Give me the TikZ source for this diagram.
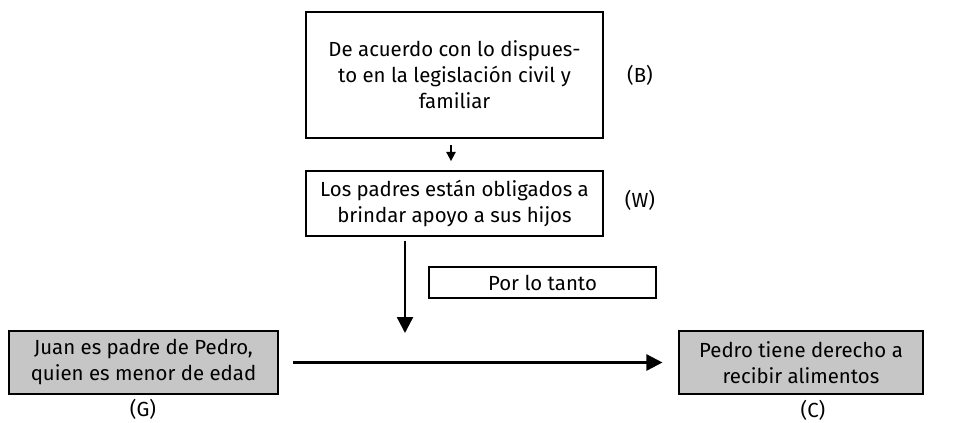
\documentclass[tikz,border=0pt]{standalone}
\usepackage{fontspec}
\setmainfont{Fira Sans}
\usetikzlibrary{positioning,arrows.meta}
\tikzset{
boxnode/.style 2 args = {rectangle, draw, line width=0.8pt, align=center, inner sep=0pt,
  minimum width=#1, minimum height=#2, font=\fontsize{15.3}{19.5}\selectfont},
greynode/.style 2 args = {boxnode={#1}{#2}, fill=gray!45},
tagnode/.style = {font=\fontsize{15.3}{19.5}\selectfont},
bigarrow/.style = {line width=1.8pt, -{Triangle[length=12pt,width=12pt]}},
smallarrow/.style = {line width=1.3pt, -{Triangle[length=7pt,width=7pt]}}
}
\begin{document}
\begin{tikzpicture}[x=0.75pt,y=-0.75pt]
    \useasboundingbox (0,0) rectangle (966,422);
    % premises
    \node [boxnode={222.75pt}{94.5pt}] (B) at (454.5,75)
        {De acuerdo con lo dispues-\\to en la legislación civil y\\familiar};
    \node [boxnode={222.75pt}{48.75pt}] (W) at (454.5,203.5)
        {Los padres están obligados a\\brindar apoyo a sus hijos};
    \node [boxnode={170.25pt}{23.25pt}] (tanto) at (542.5,282.5) {Por lo tanto};
    % data and claim
    \node [greynode={201.75pt}{47.25pt}] (G) at (143.5,362.5)
        {Juan es padre de Pedro,\\quien es menor de edad};
    \node [greynode={183pt}{47.25pt}] (C) at (801,362.5)
        {Pedro tiene derecho a\\recibir alimentos};
    \node [tagnode] (tagB) at (640,75) {(B)};
    \node [tagnode] (tagW) at (640,200) {(W)};
    \node [tagnode] (tagG) at (143,409) {(G)};
    \node [tagnode] (tagC) at (813,410) {(C)};
    \coordinate (tip) at (405,333);
    \draw [smallarrow, shorten <=5pt, shorten >=7pt] (B.south -| 451,0) -- (W.north -| 451,0);
    \draw [bigarrow, shorten <=3pt] (W.south -| tip) -- (tip);
    \draw [bigarrow, shorten <=11pt, shorten >=12pt] (G.east) -- (C.west);
\end{tikzpicture}
\end{document}
